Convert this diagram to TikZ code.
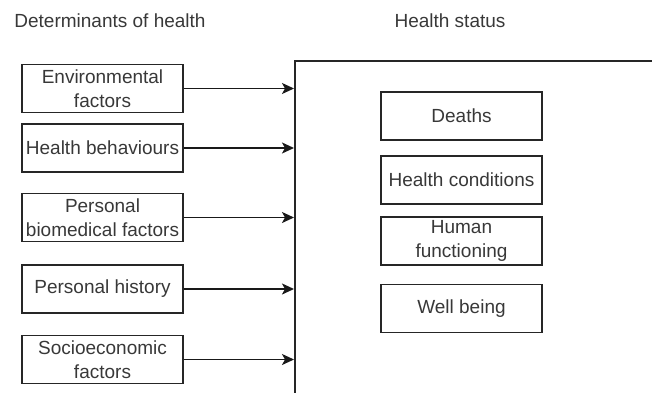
\documentclass[tikz,border=0pt]{standalone}
\usepackage{fontspec}
\setmainfont{Liberation Sans}
\usetikzlibrary{arrows.meta}
\begin{document}
\begin{tikzpicture}[x=1pt,y=1pt,
  txt/.style={text=black!78, font=\fontsize{19}{23.5}\selectfont},
  factor/.style={txt, draw=black!85, line width=1.6pt, minimum width=161pt, minimum height=48pt, inner sep=0pt, align=center},
  title/.style={txt, inner sep=0pt},
  link/.style={draw=black!90, line width=1.6pt, -{Stealth[length=12pt,width=11pt,inset=3pt]}}]
\useasboundingbox (0,0) rectangle (652,392);
\clip (0,0) rectangle (652,392);

% headings
\node[title] (dethead) at (110,371) {Determinants of health};
\node[title] (stathead) at (450,371) {Health status};

% outcome panel (runs past the right and bottom edges)
\node[draw=black!85, line width=1.6pt, minimum width=420pt, minimum height=380pt, inner sep=0pt, anchor=north west] (status) at (294,332) {};

% determinants
\node[factor] (env) at (102.5,303.5) {Environmental\\factors};
\node[factor] (beh) at (102.5,244) {Health behaviours};
\node[factor] (bio) at (102.5,174.5) {Personal\\biomedical factors};
\node[factor] (hist) at (102.5,103) {Personal history};
\node[factor] (soc) at (102.5,32.5) {Socioeconomic\\factors};

% outcomes
\node[factor] (deaths) at (461.5,276) {Deaths};
\node[factor] (cond) at (461.5,212) {Health conditions};
\node[factor] (func) at (461.5,151) {Human\\functioning};
\node[factor] (well) at (461.5,83.5) {Well being};

% links into the panel
\foreach \n in {env,beh,bio,hist,soc}
  \draw[link] (\n.east) -- (\n.east -| status.west);
\end{tikzpicture}
\end{document}
